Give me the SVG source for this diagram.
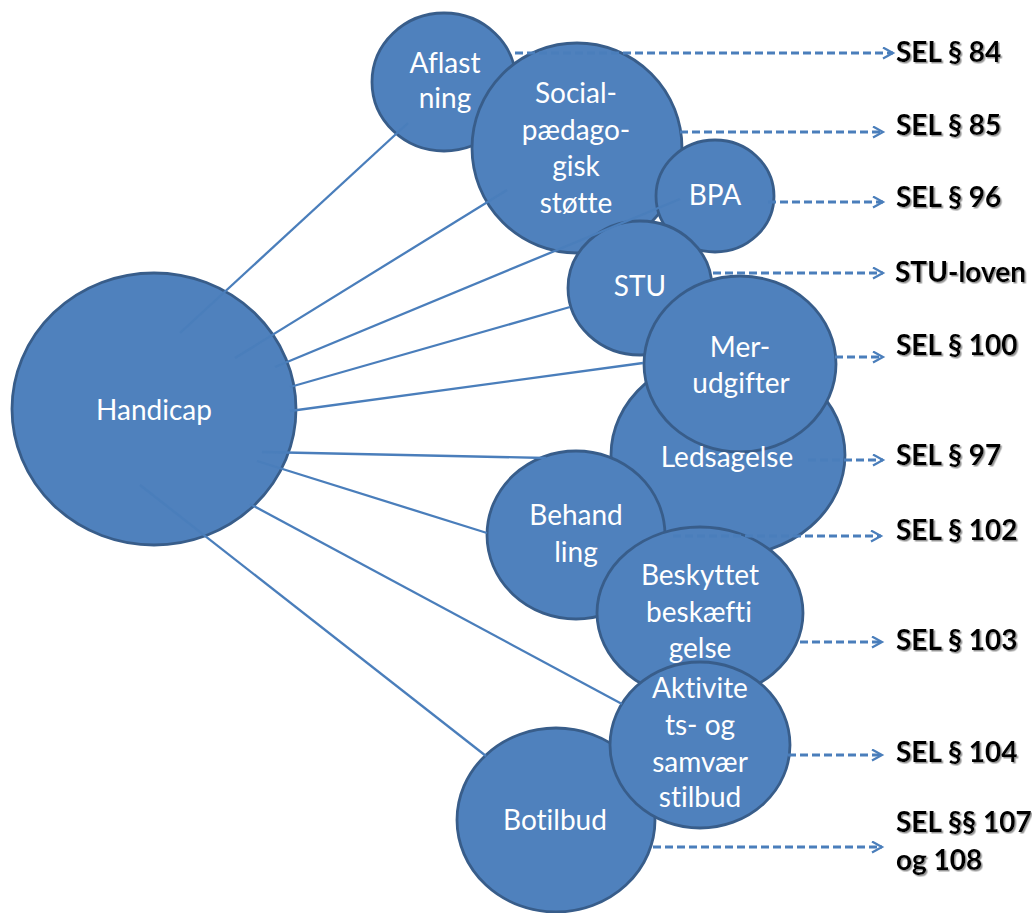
<svg xmlns="http://www.w3.org/2000/svg" width="1032" height="913" viewBox="0 0 1032 913">
<style>
.node ellipse{fill:#4f81bd;stroke:#385d8a;stroke-width:2.8}
.node text{font-family:Lato,"Liberation Sans",sans-serif;font-size:28px;fill:#ffffff;text-anchor:middle;font-variant-ligatures:none}
.conn line{stroke:#4a7ebb;stroke-width:2.3;fill:none}
.dash line{stroke:#4a7ebb;stroke-width:2.8;stroke-dasharray:8 4;marker-end:url(#arr)}
.lbl text{font-family:Lato,"Liberation Sans",sans-serif;font-size:28px;font-weight:bold;fill:#000000;filter:url(#sh)}
</style>
<defs>
<marker id="arr" markerUnits="userSpaceOnUse" markerWidth="14" markerHeight="14" refX="11" refY="6" orient="auto">
<path d="M1,0.5 L11,6 L1,11.5" fill="none" stroke="#4a7ebb" stroke-width="2.2"/>
</marker>
<filter id="sh" x="-10%" y="-20%" width="130%" height="150%">
<feDropShadow dx="1.5" dy="1.5" stdDeviation="0.6" flood-color="#8a8a8a" flood-opacity="0.9"/>
</filter>
</defs>
<rect width="1032" height="913" fill="#ffffff"/>
<g id="handicap" class="node"><ellipse cx="154" cy="409" rx="142" ry="136"/><text x="154" y="420">Handicap</text></g>
<g id="aflastning" class="node"><ellipse cx="444" cy="82" rx="72" ry="69"/><text x="445" y="73">Aflast</text><text x="445" y="108">ning</text></g>
<g id="social" class="node"><ellipse cx="577" cy="148" rx="105" ry="105"/><text x="576" y="103">Social-</text><text x="576" y="140">pædago-</text><text x="576" y="176">gisk</text><text x="576" y="213">støtte</text></g>
<g id="bpa" class="node"><ellipse cx="715" cy="196" rx="59" ry="56"/><text x="715" y="205">BPA</text></g>
<g id="stu" class="node"><ellipse cx="640" cy="288" rx="72" ry="67"/><text x="640" y="296">STU</text></g>
<g id="ledsagelse" class="node"><ellipse cx="728" cy="455" rx="117" ry="101"/></g>
<g id="merudgifter" class="node"><ellipse cx="740" cy="364" rx="96" ry="88"/><text x="740" y="357">Mer-</text><text x="741" y="393">udgifter</text></g>
<g id="ledsagelse-label" class="node"><text x="727" y="467">Ledsagelse</text></g>
<g id="behandling" class="node"><ellipse cx="576" cy="535" rx="89" ry="84"/><text x="576" y="525">Behand</text><text x="576" y="562">ling</text></g>
<g id="beskyttet" class="node"><ellipse cx="700" cy="613" rx="103" ry="86"/><text x="700" y="585">Beskyttet</text><text x="699" y="622">beskæfti</text><text x="700" y="658">gelse</text></g>
<g id="botilbud" class="node"><ellipse cx="556" cy="820" rx="99" ry="92"/><text x="555" y="830">Botilbud</text></g>
<g id="aktivitets" class="node"><ellipse cx="700" cy="745" rx="90" ry="83"/><text x="700" y="698">Aktivite</text><text x="700" y="735">ts- og</text><text x="700" y="772">samvær</text><text x="700" y="807">stilbud</text></g>
<g id="connectors">
<g class="conn">
<line x1="180" y1="333" x2="408" y2="123"/>
<line x1="235" y1="358" x2="507" y2="190"/>
<line x1="275" y1="367" x2="680" y2="199"/>
<line x1="290" y1="387" x2="570" y2="307"/>
<line x1="290" y1="411" x2="643" y2="363"/>
<line x1="262" y1="452" x2="546" y2="458"/>
<line x1="257" y1="461" x2="487" y2="533"/>
<line x1="250" y1="504" x2="622" y2="704"/>
<line x1="140" y1="485" x2="486" y2="756"/>
</g>
<g class="dash">
<line x1="515" y1="53" x2="893" y2="53"/>
<line x1="680" y1="132" x2="883" y2="132"/>
<line x1="768" y1="202" x2="883" y2="202"/>
<line x1="713" y1="273" x2="883" y2="273"/>
<line x1="835" y1="357" x2="883" y2="357"/>
<line x1="808" y1="460" x2="883" y2="460"/>
<line x1="673" y1="536" x2="881" y2="536"/>
<line x1="800" y1="642" x2="882" y2="642"/>
<line x1="788" y1="755" x2="882" y2="755"/>
<line x1="653" y1="847" x2="882" y2="847"/>
</g>
</g>
<g id="labels" class="lbl">
<text x="896" y="62">SEL § 84</text>
<text x="896" y="135">SEL § 85</text>
<text x="896" y="207">SEL § 96</text>
<text x="895" y="282">STU-loven</text>
<text x="896" y="355">SEL § 100</text>
<text x="896" y="465">SEL § 97</text>
<text x="896" y="540">SEL § 102</text>
<text x="896" y="650">SEL § 103</text>
<text x="896" y="762">SEL § 104</text>
<text x="896" y="832">SEL §§ 107</text>
<text x="896" y="870">og 108</text>
</g>
</svg>
